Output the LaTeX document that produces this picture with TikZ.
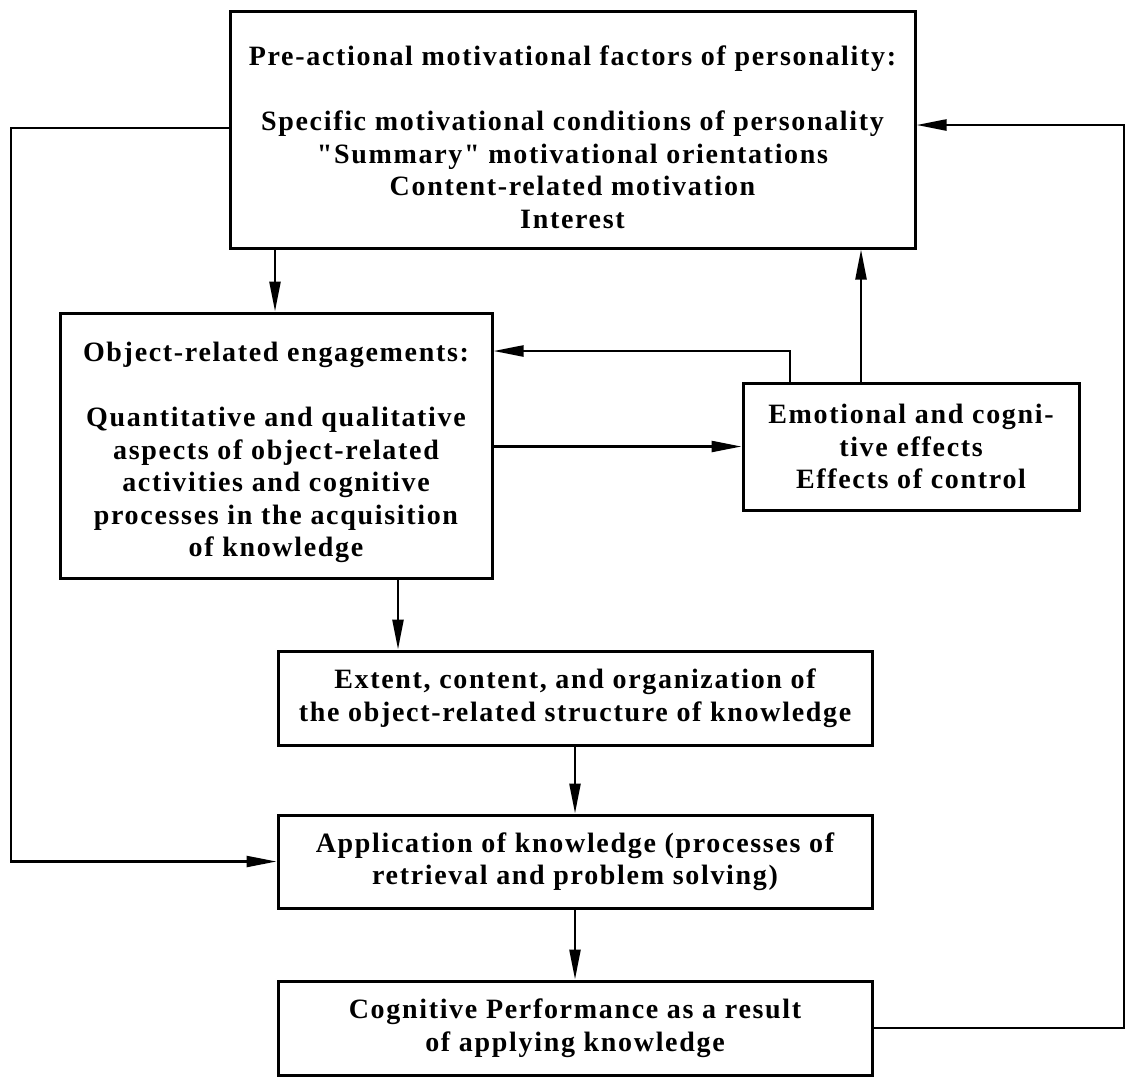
\documentclass[tikz,border=0pt]{standalone}
\usepackage{fontspec}
\setmainfont{Liberation Serif}[LetterSpace=6, Ligatures=TeXOff]
\usetikzlibrary{arrows.meta}
\tikzset{
  box/.style={draw, line width=1.5pt, align=center, inner sep=0pt,
    font=\fontsize{14}{16.25}\selectfont\bfseries},
  arr/.style={line width=1.2pt, -{Triangle[length=15pt,width=5.5pt]}},
}
\begin{document}
\begin{tikzpicture}[x=0.5pt,y=-0.5pt]
\useasboundingbox (0,0) rectangle (1128,1077);

\node[box, minimum width=342.5pt, minimum height=118.5pt] (B1) at (572.5,129.5)
  {\rule{0pt}{17.6pt}Pre-actional motivational factors of personality:\\[16.25pt]
   Specific motivational conditions of personality\\
   "Summary" motivational orientations\\
   Content-related motivation\\
   Interest};

\node[box, minimum width=216pt, minimum height=132.5pt] (B2) at (276,445.5)
  {\rule{0pt}{17pt}Object-related engagements:\\[16.25pt]
   Quantitative and qualitative\\
   aspects of object-related\\
   activities and cognitive\\
   processes in the acquisition\\
   of knowledge};

\node[box, minimum width=168pt, minimum height=63.5pt] (B3) at (911,446.5)
  {Emotional and cogni-\\
   tive effects\\
   Effects of control};

\node[box, minimum width=297pt, minimum height=47pt] (B4) at (575,698)
  {Extent, content, and organization of\\
   the object-related structure of knowledge};

\node[box, minimum width=297pt, minimum height=46.5pt] (B5) at (575,861.5)
  {Application of knowledge (processes of\\
   retrieval and problem solving)};

\node[box, minimum width=297pt, minimum height=47pt] (B6) at (575,1028)
  {Cognitive Performance as a result\\
   of applying knowledge};

\coordinate (xa) at (275,0);
\coordinate (xb) at (790,0);
\coordinate (yb) at (0,351);
\coordinate (xc) at (861,0);
\coordinate (xd) at (398,0);
\coordinate (yl) at (0,128);
\coordinate (cl) at (11,0);
\coordinate (cr) at (1124,125);

\draw[arr] (B1.south -| xa) -- (B2.north -| xa);
\draw[arr] (B1.west |- yl) -- (yl -| cl) |- (B5.west);
\draw[arr] (B6.east) -| (cr) -- (B1.east |- cr);
\draw[arr] (B2.east |- B3.west) -- (B3.west);
\draw[arr] (B3.north -| xb) |- (B2.east |- yb);
\draw[arr] (B3.north -| xc) -- (B1.south -| xc);
\draw[arr] (B2.south -| xd) -- (B4.north -| xd);
\draw[arr] (B4.south) -- (B5.north);
\draw[arr] (B5.south) -- (B6.north);
\end{tikzpicture}
\end{document}
